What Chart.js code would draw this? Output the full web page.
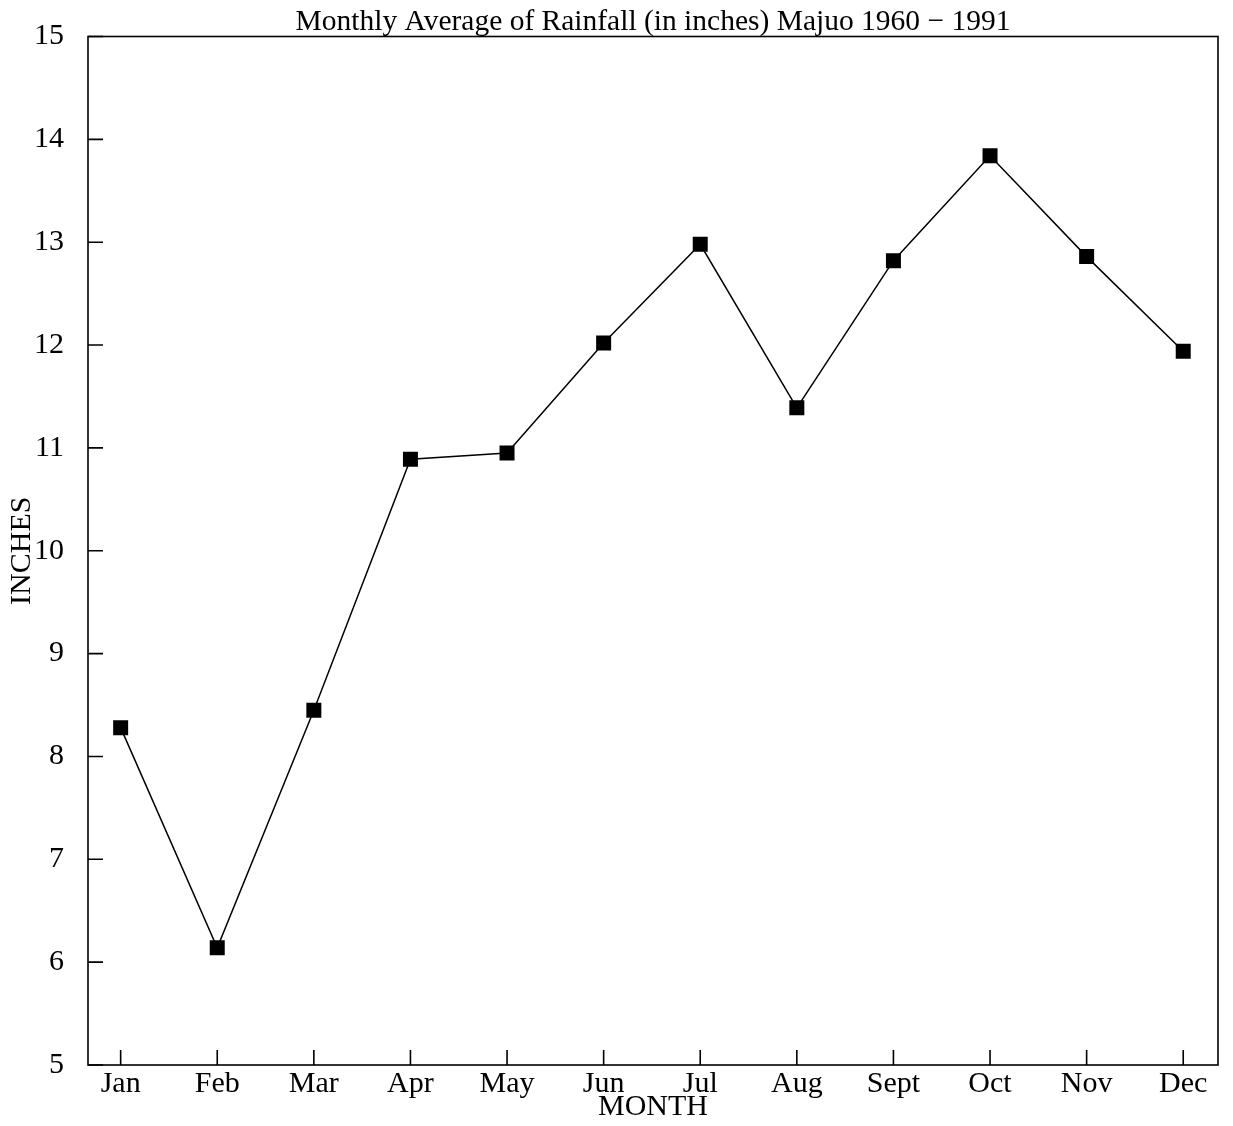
<!DOCTYPE html>
<html>
<head>
<meta charset="utf-8">
<script src="https://cdn.jsdelivr.net/npm/chart.js@4"></script>
<style>
  html, body { margin: 0; padding: 0; background: #fff; }
  #wrap { width: 1233px; height: 1126px; }
</style>
</head>
<body>
<div id="wrap"><canvas id="rainChart"></canvas></div>
<script>
const months = ["Jan", "Feb", "Mar", "Apr", "May", "Jun", "Jul", "Aug", "Sept", "Oct", "Nov", "Dec"];
const monthIndex = [1, 2, 3, 4, 5, 6, 7, 8, 9, 10, 11, 12];
const rainfall = [8.28, 6.14, 8.45, 10.89, 10.95, 12.02, 12.98, 11.39, 12.82, 13.84, 12.86, 11.94];
const yTicks = [5, 6, 7, 8, 9, 10, 11, 12, 13, 14, 15];

const serif = "'Liberation Serif', 'DejaVu Serif', serif";

// frame around the plot plus short inward tick marks
const framePlugin = {
  id: "frame",
  afterDatasetsDraw(chart) {
    const { ctx, chartArea: a, scales } = chart;
    ctx.save();
    ctx.strokeStyle = "#000";
    ctx.lineWidth = 1.6;
    ctx.strokeRect(a.left, a.top, a.right - a.left, a.bottom - a.top);
    ctx.beginPath();
    yTicks.forEach((v) => {
      const y = scales.y.getPixelForValue(v);
      ctx.moveTo(a.left, y);
      ctx.lineTo(a.left + 15, y);
    });
    monthIndex.forEach((m) => {
      const x = scales.x.getPixelForValue(m);
      ctx.moveTo(x, a.bottom);
      ctx.lineTo(x, a.bottom - 15);
    });
    ctx.stroke();
    ctx.restore();
  },
};

const ctx = document.getElementById("rainChart").getContext("2d");
const rainChart = new Chart(ctx, {
  type: "line",
  data: {
    datasets: [
      {
        label: "Rainfall",
        data: monthIndex.map((m, i) => ({ x: m, y: rainfall[i] })),
        borderColor: "#000",
        borderWidth: 1.5,
        backgroundColor: "#000",
        pointStyle: "rect",
        pointRadius: 10.6,
        pointHoverRadius: 10.6,
        pointBorderWidth: 0,
        tension: 0,
      },
    ],
  },
  options: {
    responsive: true,
    maintainAspectRatio: false,
    animation: false,
    devicePixelRatio: 1,
    layout: { padding: { left: 0, right: 15, top: 0, bottom: 0 } },
    plugins: {
      legend: { display: false },
      tooltip: { enabled: false },
      title: {
        display: true,
        fullSize: false,
        text: "Monthly Average of Rainfall (in inches) Majuo 1960 \u2212 1991",
        color: "#000",
        font: { family: serif, size: 29.5, weight: "normal", lineHeight: 1 },
        padding: { top: 7, bottom: 0 },
      },
    },
    scales: {
      x: {
        type: "linear",
        min: 0.662,
        max: 12.36,
        afterBuildTicks: (scale) => {
          scale.ticks = monthIndex.map((m) => ({ value: m }));
        },
        afterFit: (scale) => {
          scale.height = 61;
          scale.paddingLeft = 0;
          scale.paddingRight = 0;
        },
        ticks: {
          autoSkip: false,
          maxRotation: 0,
          padding: 1,
          color: "#000",
          font: { family: serif, size: 30 },
          callback: (value) => months[value - 1],
        },
        grid: { display: false, drawTicks: false },
        border: { display: false },
        title: {
          display: true,
          text: "MONTH",
          color: "#000",
          font: { family: serif, size: 30, lineHeight: 1 },
          padding: { top: 0, bottom: 4 },
        },
      },
      y: {
        min: 5,
        max: 15,
        afterBuildTicks: (scale) => {
          scale.ticks = yTicks.map((v) => ({ value: v }));
        },
        afterFit: (scale) => {
          scale.width = 88;
          scale.paddingTop = 0;
          scale.paddingBottom = 0;
        },
        ticks: {
          padding: 24,
          color: "#000",
          font: { family: serif, size: 30 },
        },
        grid: { display: false, drawTicks: false },
        border: { display: false },
        title: {
          display: true,
          text: "INCHES",
          color: "#000",
          font: { family: serif, size: 30, lineHeight: 1 },
          padding: { top: 7, bottom: 0 },
        },
      },
    },
  },
  plugins: [framePlugin],
});
</script>
</body>
</html>
